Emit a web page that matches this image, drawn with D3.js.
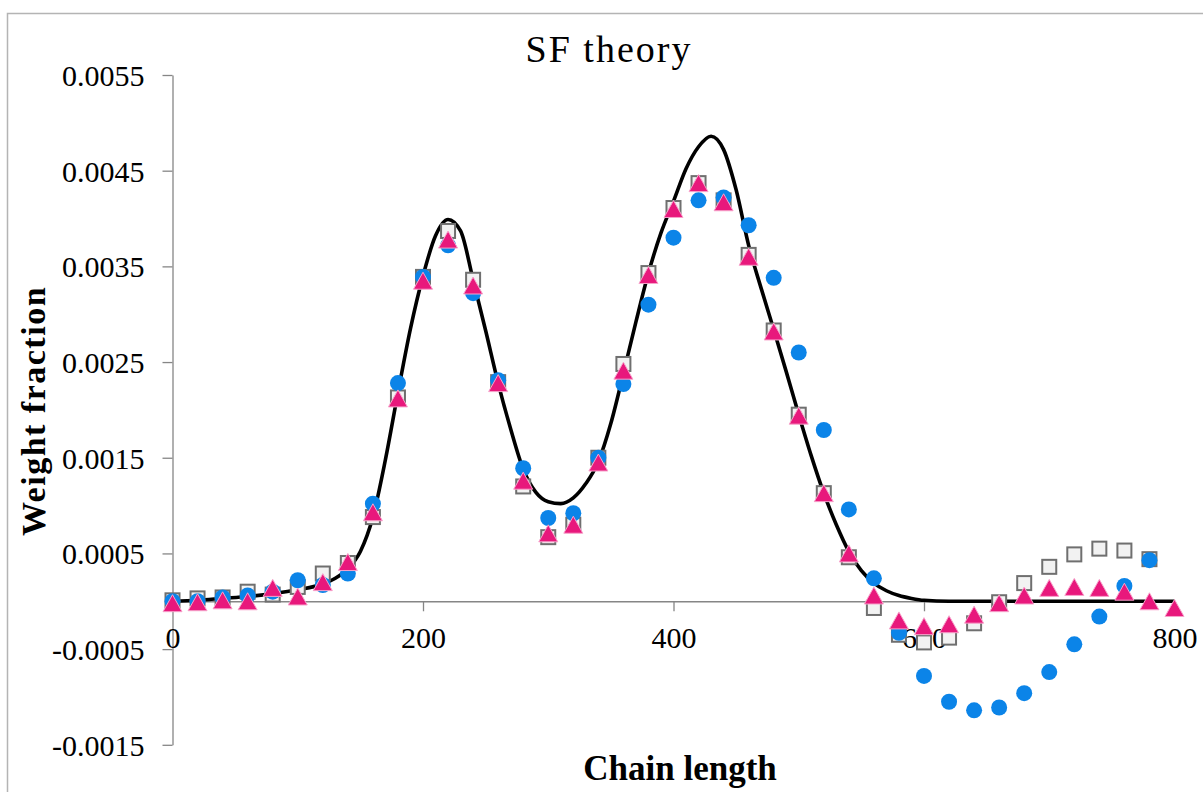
<!DOCTYPE html>
<html>
<head>
<meta charset="utf-8">
<script src="https://cdn.jsdelivr.net/npm/d3@7"></script>
<style>
html,body{margin:0;padding:0;background:#fff;}
svg{display:block;}
</style>
</head>
<body>
<svg id="chart" width="1203" height="792"></svg>
<script>
// ---- data ----
const chartTitle = "SF theory";
const xTitle = "Chain length";
const yTitle = "Weight fraction";

const xTickValues = [0, 200, 400, 600, 800];
const xTickLabels = ["0", "200", "400", "600", "800"];
const yTickValues = [-0.0015, -0.0005, 0.0005, 0.0015, 0.0025, 0.0035, 0.0045, 0.0055];
const yTickLabels = ["-0.0015", "-0.0005", "0.0005", "0.0015", "0.0025", "0.0035", "0.0045", "0.0055"];

// theory curve
const curveX = [0,20,40,60,80,100,120,130,140,150,160,170,180,190,200,210,220,230,240,250,260,270,280,290,300,310,320,330,340,350,360,370,380,390,400,410,420,430,440,450,460,470,480,490,500,510,520,530,540,550,560,570,580,590,600,620,650,700,750,800];
const curveY = [0,0.00001,0.00003,0.00005,0.00008,0.00012,0.00018,0.00024,0.00034,0.00052,0.00088,0.00148,0.00218,0.00285,0.00340,0.00382,0.00399,0.00387,0.00336,0.00283,0.00228,0.00180,0.00138,0.00114,0.00104,0.00102,0.00108,0.00123,0.00146,0.00186,0.00238,0.00292,0.00343,0.00385,0.00418,0.00452,0.00475,0.00486,0.00472,0.00430,0.00372,0.00327,0.00284,0.00240,0.00195,0.00152,0.00113,0.00080,0.00052,0.00032,0.00019,0.00011,0.00006,0.00003,0.00001,0,0,0,0,0];

// marker x positions (chain length)
const markerX = [0,20,40,60,80,100,120,140,160,180,200,220,240,260,280,300,320,340,360,380,400,420,440,460,480,500,520,540,560,580,600,620,640,660,680,700,720,740,760,780,800];

// blue circles (0..780)
const circleY = [0,0,0.00004,0.00006,0.0001,0.00022,0.00017,0.00029,0.00102,0.00228,0.00339,0.00372,0.00322,0.00231,0.00139,0.00087,0.00092,0.0015,0.00227,0.0031,0.0038,0.00419,0.00422,0.00393,0.00338,0.0026,0.00179,0.00096,0.00024,-0.00033,-0.00078,-0.00105,-0.00114,-0.00111,-0.00096,-0.00074,-0.00045,-0.00016,0.00016,0.00043];

// grey squares (0..780)
const squareY = [0.00001,0.00003,0.00004,0.0001,0.00007,0.00015,0.00029,0.0004,0.00088,0.00213,0.00339,0.00387,0.00336,0.00229,0.0012,0.00067,0.0008,0.0015,0.00248,0.00343,0.00411,0.00437,0.00419,0.00362,0.00283,0.00195,0.00113,0.00046,-0.00007,-0.00035,-0.00043,-0.00038,-0.00023,-0.00001,0.00019,0.00036,0.00049,0.00055,0.00053,0.00044];

// pink triangles (0..800)
const triangleY = [-0.00002,-0.00001,0.00001,0,0.00014,0.00005,0.0002,0.00041,0.00093,0.00212,0.00335,0.00378,0.0033,0.00228,0.00126,0.00071,0.0008,0.00145,0.00241,0.00341,0.0041,0.00437,0.00417,0.0036,0.00282,0.00194,0.00113,0.0005,0.00006,-0.0002,-0.00026,-0.00024,-0.00014,-0.00002,0.00006,0.00014,0.00015,0.00014,0.0001,0,-0.00007];

// ---- chart ----
const svg = d3.select("#chart");
const FONT = "'Liberation Serif', 'Times New Roman', serif";

const x = d3.scaleLinear().domain([0, 800]).range([172.5, 1174.5]);
const y = d3.scaleLinear().domain([-0.0015, 0.0055]).range([744.8, 75]);

// outer border
svg.append("path")
  .attr("d", "M7.5,800 L7.5,13.5 L1210,13.5")
  .attr("fill", "none")
  .attr("stroke", "#b4b4b4")
  .attr("stroke-width", 1.5);

// y axis
const yAxis = svg.append("g")
  .attr("transform", `translate(${x(0)},0)`)
  .call(d3.axisLeft(y).tickValues(yTickValues).tickSize(10).tickSizeOuter(0)
    .tickFormat((d, i) => yTickLabels[i]));
yAxis.select(".domain").attr("stroke", "#868686").attr("stroke-width", 1.3);
yAxis.selectAll(".tick line").attr("stroke", "#868686").attr("stroke-width", 1.3);
yAxis.selectAll(".tick text")
  .attr("x", -28).attr("dy", "0.35em")
  .attr("font-family", FONT).attr("font-size", 30).attr("fill", "#000");

// x axis at y = 0
const xAxis = svg.append("g")
  .attr("transform", `translate(0,${y(0)})`)
  .call(d3.axisBottom(x).tickValues(xTickValues).tickSize(10).tickSizeOuter(0)
    .tickFormat((d, i) => xTickLabels[i]));
xAxis.select(".domain").attr("stroke", "#868686").attr("stroke-width", 1.3);
xAxis.selectAll(".tick line").attr("stroke", "#868686").attr("stroke-width", 1.3);
xAxis.selectAll(".tick text")
  .attr("y", 47).attr("dy", 0)
  .attr("font-family", FONT).attr("font-size", 30).attr("fill", "#000");

// theory curve
const curvePts = curveX.map((v, i) => [v, curveY[i]]);
svg.append("path")
  .datum(curvePts)
  .attr("fill", "none")
  .attr("stroke", "#000")
  .attr("stroke-width", 3.6)
  .attr("stroke-linejoin", "round")
  .attr("d", d3.line().x(d => x(d[0])).y(d => y(d[1])).curve(d3.curveMonotoneX));

// squares
const sq = 14;
svg.append("g").selectAll("rect")
  .data(squareY.map((v, i) => [markerX[i], v]))
  .join("rect")
  .attr("x", d => x(d[0]) - sq / 2)
  .attr("y", d => y(d[1]) - sq / 2)
  .attr("width", sq).attr("height", sq)
  .attr("fill", "#f2f2f2")
  .attr("stroke", "#6f6f6f")
  .attr("stroke-width", 2);

// circles
svg.append("g").selectAll("circle")
  .data(circleY.map((v, i) => [markerX[i], v]))
  .join("circle")
  .attr("cx", d => x(d[0]))
  .attr("cy", d => y(d[1]))
  .attr("r", 8)
  .attr("fill", "#0b84e8");

// triangles
const tw = 19, th = 17;
svg.append("g").selectAll("path")
  .data(triangleY.map((v, i) => [markerX[i], v]))
  .join("path")
  .attr("transform", d => `translate(${x(d[0])},${y(d[1])})`)
  .attr("d", `M0,${-th / 2} L${tw / 2},${th / 2} L${-tw / 2},${th / 2} Z`)
  .attr("fill", "#e8187c")
  .attr("stroke", "#f7a3cb")
  .attr("stroke-width", 1);

// title
svg.append("text")
  .attr("x", 609).attr("y", 62)
  .attr("text-anchor", "middle")
  .attr("font-family", FONT).attr("font-size", 38)
  .attr("letter-spacing", 2)
  .text(chartTitle);

// x title
svg.append("text")
  .attr("x", 680).attr("y", 780)
  .attr("text-anchor", "middle")
  .attr("font-family", FONT).attr("font-size", 35).attr("font-weight", "bold")
  .text(xTitle);

// y title
svg.append("text")
  .attr("transform", "translate(45,411) rotate(-90)")
  .attr("text-anchor", "middle")
  .attr("font-family", FONT).attr("font-size", 34).attr("font-weight", "bold")
  .attr("letter-spacing", 1.5)
  .text(yTitle);
</script>
</body>
</html>
